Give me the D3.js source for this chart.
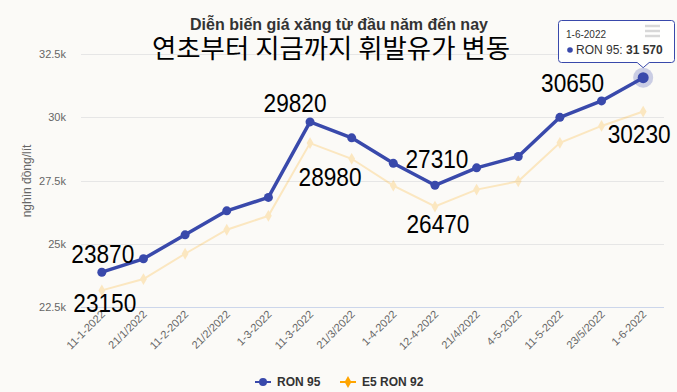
<!doctype html>
<html>
<head>
<meta charset="utf-8">
<script src="https://cdn.jsdelivr.net/npm/d3@7"></script>
</head>
<body style="margin:0px;background:#fbfaf7">
<script>

var w = 677, h = 392;

// data
var dates = ["11-1-2022","21/1/2022","11-2-2022","21/2/2022","1-3-2022","11-3-2022","21/3/2022",
             "1-4-2022","12-4-2022","21/4/2022","4-5-2022","11-5-2022","23/5/2022","1-6-2022"];
var ron95 = [23870, 24400, 25350, 26300, 26830, 29820, 29190, 28180, 27310, 28000, 28450, 30000, 30650, 31570];
var e5ron92 = [23150, 23600, 24600, 25550, 26100, 28980, 28360, 27300, 26470, 27140, 27470, 28990, 29660, 30230];
var yTicks = [22500, 25000, 27500, 30000, 32500];
var yTickLabels = ["22.5k", "25k", "27.5k", "30k", "32.5k"];

// big number labels drawn on top (index, which series, offset from point)
var notes = [
  {s: "ron", i: 0, dx: 1, dy: -9},
  {s: "e5", i: 0, dx: 3, dy: 22},
  {s: "ron", i: 5, dx: -15, dy: -10},
  {s: "e5", i: 5, dx: 20, dy: 43},
  {s: "ron", i: 8, dx: 2, dy: -17},
  {s: "e5", i: 8, dx: 3, dy: 26},
  {s: "ron", i: 12, dx: -29, dy: -9},
  {s: "e5", i: 13, dx: -4, dy: 31}
];

var blue = "#3949ab", orange = "#ffa500";

var svg = d3.select("body").append("svg").attr("width", w).attr("height", h)
  .style("display", "block")
  .style("font-family", "'Liberation Sans', Arial, sans-serif");

svg.append("rect").attr("width", w).attr("height", h).attr("fill", "#fbfaf7");

var x = d3.scaleBand().domain(dates).range([81, 664]);
var y = d3.scaleLinear().domain([22500, 32500]).range([306.8, 54.2]);
function cx(i) { return x(dates[i]) + x.bandwidth() / 2; }

// grid
svg.selectAll("line.grid")
   .data(yTicks.slice(1))
   .enter().append("line")
   .attr("x1", 81).attr("x2", 664)
   .attr("y1", function(d){ return Math.round(y(d)) + 0.5; })
   .attr("y2", function(d){ return Math.round(y(d)) + 0.5; })
   .attr("stroke", "#e6e6e6");

svg.append("line")
   .attr("x1", 81).attr("x2", 664)
   .attr("y1", Math.round(y(22500)) + 0.5).attr("y2", Math.round(y(22500)) + 0.5)
   .attr("stroke", "#ccd6eb");

// y labels
svg.selectAll("text.yl")
   .data(yTicks)
   .enter().append("text")
   .attr("x", 66)
   .attr("y", function(d){ return y(d) + 4; })
   .attr("text-anchor", "end")
   .attr("font-size", 11)
   .attr("fill", "#666")
   .text(function(d,i){ return yTickLabels[i]; });

svg.append("text")
   .attr("transform", "translate(31,181) rotate(-90)")
   .attr("text-anchor", "middle")
   .attr("font-size", 12)
   .attr("fill", "#666")
   .text("nghìn đồng/lít");

// x labels
svg.selectAll("text.xl")
   .data(dates)
   .enter().append("text")
   .attr("transform", function(d,i){ return "translate(" + (cx(i) + 4) + ",315) rotate(-45)"; })
   .attr("text-anchor", "end")
   .attr("font-size", 11)
   .attr("fill", "#666")
   .text(function(d){ return d; });

// lines
var line = d3.line().x(function(d,i){ return cx(i); }).y(function(d){ return y(d); });

var e5 = svg.append("g").attr("opacity", 0.22);
e5.append("path").datum(e5ron92).attr("d", line)
  .attr("fill", "none").attr("stroke", orange).attr("stroke-width", 2);
e5.selectAll("path.m").data(e5ron92).enter().append("path")
  .attr("d", d3.symbol().type(d3.symbolDiamond).size(40))
  .attr("transform", function(d,i){ return "translate(" + cx(i) + "," + y(d) + ")"; })
  .attr("fill", orange);

svg.append("path").datum(ron95).attr("d", line)
  .attr("fill", "none").attr("stroke", blue).attr("stroke-width", 3.5)
  .attr("stroke-linejoin", "round");

var last = ron95.length - 1;
svg.append("circle").attr("cx", cx(last)).attr("cy", y(ron95[last])).attr("r", 10)
  .attr("fill", blue).attr("opacity", 0.25);

svg.selectAll("circle.m").data(ron95).enter().append("circle")
  .attr("cx", function(d,i){ return cx(i); })
  .attr("cy", function(d){ return y(d); })
  .attr("r", function(d,i){ return i == last ? 5.5 : 4.5; })
  .attr("fill", blue);

// number labels
svg.selectAll("text.note").data(notes).enter().append("text")
  .attr("x", function(d){ return cx(d.i) + d.dx - 31.5; })
  .attr("y", function(d){ return y(d.s == "ron" ? ron95[d.i] : e5ron92[d.i]) + d.dy; })
  .attr("font-family", "'Liberation Sans', Arial, sans-serif")
  .attr("font-size", 26)
  .attr("textLength", 63)
  .attr("lengthAdjust", "spacingAndGlyphs")
  .attr("fill", "#000")
  .text(function(d){ return d.s == "ron" ? ron95[d.i] : e5ron92[d.i]; });

// titles
svg.append("text").attr("x", 339).attr("y", 30).attr("text-anchor", "middle")
  .attr("font-size", 16).attr("font-weight", "bold").attr("fill", "#333")
  .text("Diễn biến giá xăng từ đầu năm đến nay");
svg.append("text").attr("x", 331).attr("y", 58).attr("text-anchor", "middle")
  .attr("font-family", "'Noto Sans CJK KR', sans-serif")
  .attr("font-size", 26).attr("fill", "#000")
  .attr("textLength", 358).attr("lengthAdjust", "spacingAndGlyphs")
  .text("연초부터 지금까지 휘발유가 변동");

// legend
var lg = svg.append("g");
lg.append("line").attr("x1", 255).attr("x2", 271).attr("y1", 382).attr("y2", 382)
  .attr("stroke", blue).attr("stroke-width", 2);
lg.append("circle").attr("cx", 263).attr("cy", 382).attr("r", 4).attr("fill", blue);
lg.append("text").attr("x", 277).attr("y", 386).attr("font-size", 12).attr("font-weight", "bold")
  .attr("fill", "#333").text("RON 95");
lg.append("line").attr("x1", 340).attr("x2", 356).attr("y1", 382).attr("y2", 382)
  .attr("stroke", orange).attr("stroke-width", 2);
lg.append("path").attr("d", d3.symbol().type(d3.symbolDiamond).size(40))
  .attr("transform", "translate(348,382)").attr("fill", orange);
lg.append("text").attr("x", 362).attr("y", 386).attr("font-size", 12).attr("font-weight", "bold")
  .attr("fill", "#333").text("E5 RON 92");

// tooltip
var tx = cx(last), ty = y(ron95[last]) - 10;
var tip = svg.append("g");
tip.append("path")
  .attr("d", "M561.5,20.5 H671.5 Q674.5,20.5 674.5,23.5 V59.5 Q674.5,62.5 671.5,62.5 H" + (tx + 6) +
             " L" + tx + "," + ty + " L" + (tx - 6) + ",62.5 H561.5 Q558.5,62.5 558.5,59.5 V23.5 Q558.5,20.5 561.5,20.5 Z")
  .attr("fill", "#fff").attr("fill-opacity", 0.85)
  .attr("stroke", blue).attr("stroke-width", 1);
[26, 31, 36].forEach(function(yy){
  tip.append("line").attr("x1", 645).attr("x2", 660).attr("y1", yy).attr("y2", yy)
    .attr("stroke", "#d8d8d8").attr("stroke-width", 2.5);
});
tip.append("text").attr("x", 566).attr("y", 38).attr("font-size", 10).attr("fill", "#333").text("1-6-2022");
tip.append("circle").attr("cx", 570).attr("cy", 50).attr("r", 2.8).attr("fill", blue);
var t2 = tip.append("text").attr("x", 576).attr("y", 54).attr("font-size", 12).attr("fill", "#333");
t2.append("tspan").text("RON 95: ");
t2.append("tspan").attr("font-weight", "bold").text("31 570");

</script>
</body>
</html>
